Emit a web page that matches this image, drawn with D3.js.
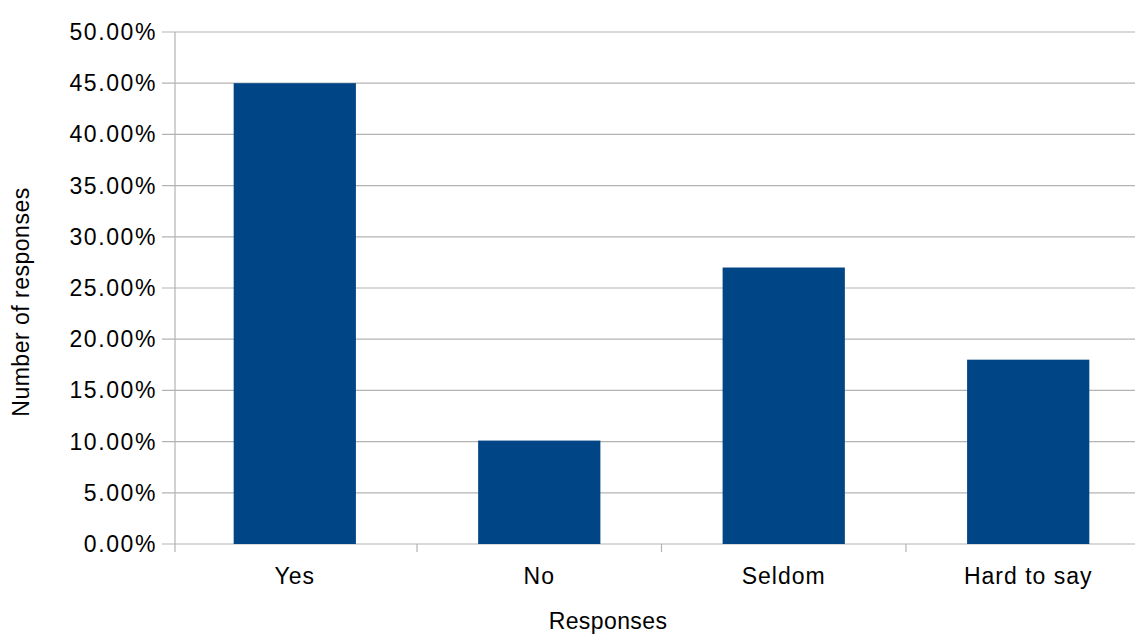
<!doctype html>
<html lang="en">
<head>
<meta charset="utf-8">
<title>Responses</title>
<style>
  html, body { margin: 0; padding: 0; background: #fff; overflow: hidden; }
  svg text { font-family: "Liberation Sans", Arial, sans-serif; fill: #000; }
</style>
</head>
<body>
<svg width="1135" height="635" id="chart"></svg>
<script src="https://cdn.jsdelivr.net/npm/d3@7"></script>
<script>
    // chart data
    const categories = ["Yes", "No", "Seldom", "Hard to say"];
    const values = [45, 10.1, 27, 18];
    const yTicks = [0, 5, 10, 15, 20, 25, 30, 35, 40, 45, 50];

    const svg = d3.select("#chart");
    const margin = {top: 32, left: 175, bottom: 91};
    const plotRight = 1148;
    const bottom = +svg.attr("height") - margin.bottom;

    const x = d3.scaleBand()
        .domain(categories)
        .range([margin.left, plotRight])
        .paddingInner(0.5)
        .paddingOuter(0.24);

    const y = d3.scaleLinear()
        .domain([0, 50])
        .range([bottom, margin.top]);

    const grid = "#b3b3b3";

    // horizontal grid lines + left ticks
    svg.append("g")
        .selectAll("line")
        .data(yTicks)
        .enter().append("line")
        .attr("x1", margin.left - 13)
        .attr("x2", plotRight)
        .attr("y1", d => y(d))
        .attr("y2", d => y(d))
        .attr("stroke", grid)
        .attr("stroke-width", 1.2);

    // y axis line
    svg.append("line")
        .attr("x1", margin.left).attr("x2", margin.left)
        .attr("y1", y(50)).attr("y2", bottom + 8)
        .attr("stroke", grid)
        .attr("stroke-width", 1.2);

    // category separator ticks under the axis
    const step = x.step();
    svg.append("g")
        .selectAll("line")
        .data(categories.slice(1))
        .enter().append("line")
        .attr("x1", d => x(d) - (x(d) - x(categories[categories.indexOf(d) - 1]) - x.bandwidth()) / 2)
        .attr("x2", d => x(d) - (x(d) - x(categories[categories.indexOf(d) - 1]) - x.bandwidth()) / 2)
        .attr("y1", bottom)
        .attr("y2", bottom + 8)
        .attr("stroke", grid)
        .attr("stroke-width", 1.2);

    // bars
    svg.append("g")
        .selectAll("rect")
        .data(values)
        .enter().append("rect")
        .attr("x", (d, i) => x(categories[i]))
        .attr("width", x.bandwidth())
        .attr("y", d => y(d))
        .attr("height", d => bottom - y(d))
        .style("fill", "#004586");

    // y tick labels
    svg.append("g")
        .selectAll("text")
        .data(yTicks)
        .enter().append("text")
        .attr("x", 157)
        .attr("y", d => y(d) + 8)
        .style("text-anchor", "end")
        .style("font-size", "23px")
        .style("letter-spacing", "1.6px")
        .text(d => d.toFixed(2) + "%");

    // category labels
    svg.append("g")
        .selectAll("text")
        .data(categories)
        .enter().append("text")
        .attr("x", d => x(d) + x.bandwidth() / 2)
        .attr("y", 584)
        .style("text-anchor", "middle")
        .style("font-size", "23px")
        .style("letter-spacing", "1px")
        .text(d => d);

    // axis titles
    svg.append("text")
        .attr("x", 608)
        .attr("y", 629)
        .style("text-anchor", "middle")
        .style("font-size", "23px")
        .style("letter-spacing", "0.4px")
        .text("Responses");

    svg.append("text")
        .attr("transform", "translate(29,302) rotate(-90)")
        .style("text-anchor", "middle")
        .style("font-size", "23px")
        .style("letter-spacing", "0.5px")
        .text("Number of responses");
</script>
</body>
</html>
